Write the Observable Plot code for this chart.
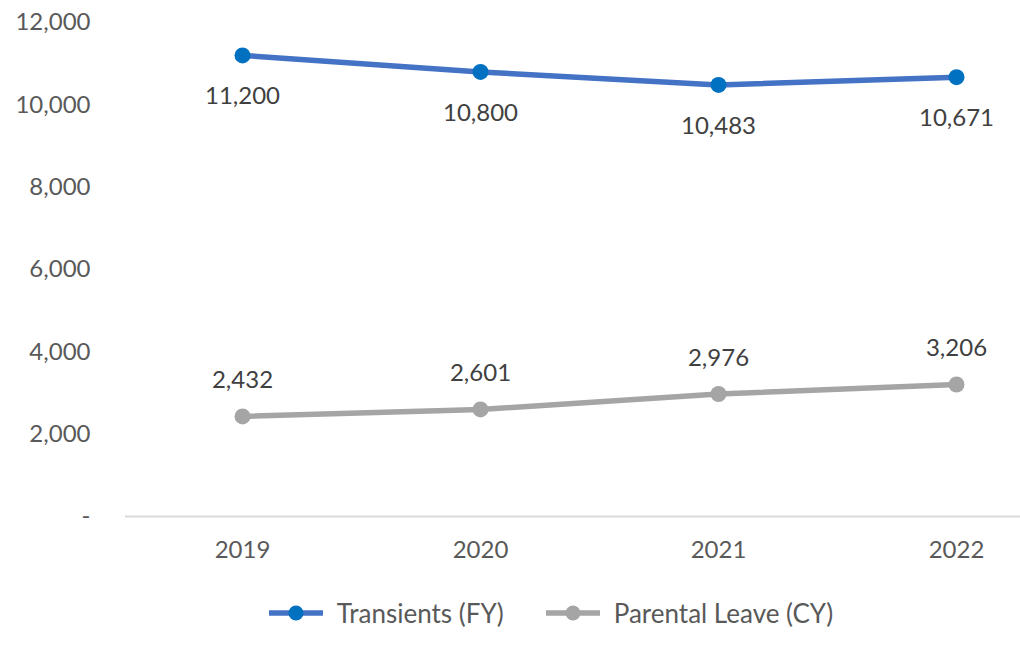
<!DOCTYPE html>
<html>
<head>
<meta charset="utf-8">
<script src="https://cdn.jsdelivr.net/npm/d3@7"></script>
<script src="https://cdn.jsdelivr.net/npm/@observablehq/plot@0.6"></script>
<style>
  html, body { margin: 0; padding: 0; background: #fff; }
  body { width: 1020px; height: 656px; position: relative; font-family: Lato, "Open Sans", sans-serif; overflow: hidden; }
  #legend { position: absolute; top: 597px; left: 41px; width: 1020px; display: flex; justify-content: center; gap: 42px; font-size: 26px; color: #595959; }
  .item { display: flex; align-items: center; }
  .item svg { margin-right: 14px; }
</style>
</head>
<body>
<div id="chart"></div>
<div id="legend"></div>
<script>
const years = ["2019", "2020", "2021", "2022"];
const transients = [11200, 10800, 10483, 10671];
const parental = [2432, 2601, 2976, 3206];
const seriesNames = ["Transients (FY)", "Parental Leave (CY)"];
const lineColors = ["#4472C4", "#A5A5A5"];
const dotColors = ["#0070C0", "#A5A5A5"];
const yTicks = [0, 2000, 4000, 6000, 8000, 10000, 12000];

const rows = [];
years.forEach((y, i) => {
  rows.push({year: y, value: transients[i], series: seriesNames[0]});
  rows.push({year: y, value: parental[i], series: seriesNames[1]});
});
const tRows = rows.filter(d => d.series === seriesNames[0]);
const pRows = rows.filter(d => d.series === seriesNames[1]);
const fmt = d3.format(",");

const chart = Plot.plot({
  width: 1020,
  height: 580,
  marginLeft: 125,
  marginRight: 0,
  marginTop: 22,
  marginBottom: 64,
  style: {fontFamily: "Lato, 'Open Sans', sans-serif", fontSize: "24px", color: "#595959", background: "#fff"},
  x: {type: "band", domain: years, range: [123, 1075], padding: 0, label: null, tickSize: 0, tickPadding: 24},
  y: {domain: [0, 12000], ticks: yTicks, label: null, tickSize: 0, tickPadding: 35,
      tickFormat: d => d === 0 ? "-" : fmt(d)},
  marks: [
    Plot.ruleY([0], {stroke: "#D9D9D9", strokeWidth: 2}),
    Plot.lineY(tRows, {x: "year", y: "value", stroke: lineColors[0], strokeWidth: 5.5}),
    Plot.lineY(pRows, {x: "year", y: "value", stroke: lineColors[1], strokeWidth: 5.5}),
    Plot.dot(tRows, {x: "year", y: "value", r: 8, fill: dotColors[0]}),
    Plot.dot(pRows, {x: "year", y: "value", r: 8, fill: dotColors[1]}),
    Plot.text(tRows, {x: "year", y: "value", text: d => fmt(d.value), dy: 41, fill: "#404040", fontSize: 24}),
    Plot.text(pRows, {x: "year", y: "value", text: d => fmt(d.value), dy: -36, fill: "#404040", fontSize: 24})
  ]
});
document.getElementById("chart").appendChild(chart);

const legend = document.getElementById("legend");
seriesNames.forEach((name, i) => {
  const item = document.createElement("div");
  item.className = "item";
  item.innerHTML = `<svg width="54" height="20"><line x1="1" y1="10" x2="53" y2="10" stroke="${lineColors[i]}" stroke-width="5.5" stroke-linecap="round"/><circle cx="27" cy="10" r="7.5" fill="${dotColors[i]}"/></svg><span>${name}</span>`;
  legend.appendChild(item);
});
</script>
</body>
</html>
